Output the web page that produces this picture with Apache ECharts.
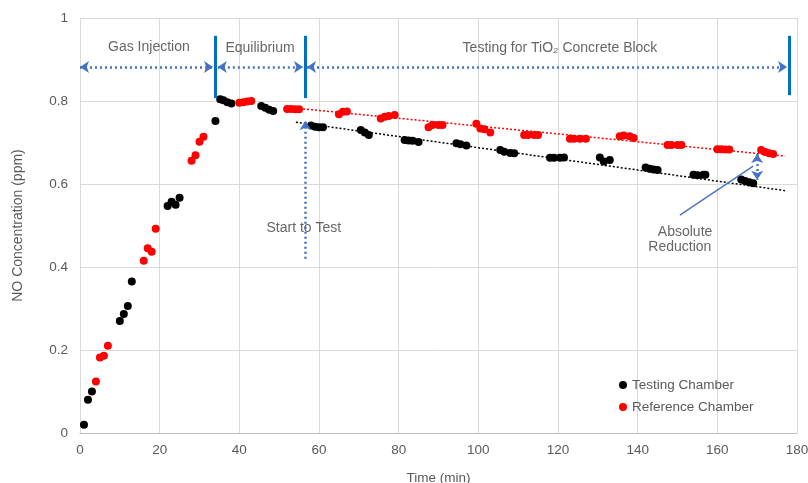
<!DOCTYPE html>
<html>
<head>
<meta charset="utf-8">
<script src="https://cdn.jsdelivr.net/npm/echarts@6/dist/echarts.min.js"></script>
<style>
html,body{margin:0;padding:0;background:#fff;}
#chart{width:808px;height:483px;}
</style>
</head>
<body>
<div id="chart"></div>
<script>
// time (min), NO (ppm)
var testingPts = [
  [1,0.02],[2,0.08],[3,0.1],[10,0.27],[11,0.287],[12,0.306],[13,0.365],
  [22,0.547],[23,0.557],[24,0.55],[25,0.567],[34,0.752],
  [35.2,0.804],[36,0.802],[37,0.797],[38,0.794],
  [45.5,0.788],[46.5,0.784],[47.5,0.779],[48.5,0.776],
  [58,0.741],[59,0.738],[60,0.737],[61,0.737],
  [70.5,0.73],[71.5,0.724],[72.5,0.718],
  [81.5,0.706],[82.5,0.705],[83.5,0.704],[85,0.701],
  [94.5,0.698],[95.5,0.696],[97,0.693],
  [105.5,0.682],[106.5,0.678],[108,0.675],[109,0.674],
  [118,0.663],[119,0.663],[120.5,0.663],[121.5,0.664],
  [130.5,0.664],[131.5,0.654],[133,0.658],
  [142,0.64],[143,0.637],[144,0.635],[145,0.634],
  [154,0.622],[155,0.621],[156.5,0.622],[157,0.622],
  [166,0.611],[167,0.607],[168,0.604],[169,0.602]
];
var referencePts = [
  [4,0.124],[5,0.182],[6,0.186],[7,0.21],[16,0.415],[17,0.445],[18,0.437],[19,0.492],
  [28,0.656],[29,0.669],[30,0.702],[31,0.714],
  [40,0.796],[41,0.797],[42,0.799],[43,0.8],
  [52,0.781],[53,0.781],[54,0.78],[55,0.78],
  [65,0.768],[66,0.774],[67,0.775],
  [75.5,0.758],[76.5,0.762],[77.5,0.764],[79,0.766],
  [87.5,0.737],[88.5,0.742],[90,0.742],[91,0.742],
  [99.5,0.745],[100.5,0.734],[101.5,0.732],[103,0.724],
  [111.5,0.718],[112.5,0.718],[114,0.718],[115,0.718],
  [123,0.709],[124,0.709],[125.5,0.709],[127,0.709],
  [135.5,0.715],[136.5,0.717],[138,0.715],[139,0.711],
  [147.5,0.694],[148.5,0.694],[150,0.694],[151,0.694],
  [160,0.684],[161,0.684],[162,0.683],[163,0.683],
  [171,0.682],[172,0.677],[173,0.674],[174,0.672]
];
var testingTrend = [[54.2,0.749],[177,0.584]];
var referenceTrend = [[56,0.781],[177,0.667]];

var phaseBounds = [34, 56.5, 178];
var spanY = 0.882;
var spans = [[0,33.4],[34.6,56],[57,177.5]];
var phaseLabels = [
  {name:'Gas Injection', value:[17.3,0.93]},
  {name:'Equilibrium', value:[45.2,0.928]},
  {name:'Testing for TiO₂ Concrete Block', value:[120.5,0.928]},
  {name:'Start to Test', value:[56.2,0.494]},
  {name:'Absolute', value:[151.9,0.484]},
  {name:'Reduction', value:[150.6,0.448]}
];

var txt = '#595959';
var blue = '#4472c4';
var fontFam = '"Liberation Sans", Arial, sans-serif';

var myChart = echarts.init(document.getElementById('chart'));

var option = {
  animation: false,
  textStyle: {fontFamily: fontFam},
  grid: {left: 80, right: 11, top: 18, bottom: 50, outerBoundsMode: 'none'},
  legend: {
    data: ['Testing Chamber', 'Reference Chamber'],
    orient: 'vertical',
    left: 614, top: 373,
    icon: 'circle',
    itemWidth: 8, itemHeight: 8, itemGap: 8,
    textStyle: {color: txt, fontSize: 13.5, fontFamily: fontFam}
  },
  xAxis: {
    type: 'value', min: 0, max: 180, interval: 20,
    name: 'Time (min)', nameLocation: 'middle', nameGap: 38,
    nameTextStyle: {color: txt, fontSize: 13.5},
    axisLine: {show: true, lineStyle: {color: '#bfbfbf'}},
    axisTick: {show: false},
    axisLabel: {color: txt, fontSize: 13.5, margin: 10},
    splitLine: {lineStyle: {color: '#d9d9d9'}}
  },
  yAxis: {
    type: 'value', min: 0, max: 1, interval: 0.2,
    name: 'NO Concentration (ppm)', nameLocation: 'middle', nameGap: 55,
    nameTextStyle: {color: txt, fontSize: 14},
    axisLine: {show: false},
    axisTick: {show: false},
    axisLabel: {color: txt, fontSize: 13.5, margin: 12},
    splitLine: {lineStyle: {color: '#d9d9d9'}}
  },
  series: [
    {
      name: 'Reference Chamber trend', type: 'line', data: referenceTrend,
      symbol: 'none', silent: true,
      lineStyle: {color: '#ff0000', width: 1.5, type: [2, 2]}
    },
    {
      name: 'Testing Chamber trend', type: 'line', data: testingTrend,
      symbol: 'none', silent: true,
      lineStyle: {color: '#000000', width: 1.5, type: [2, 2]}
    },
    {
      name: 'Testing Chamber', type: 'scatter', data: testingPts,
      symbolSize: 8, itemStyle: {color: '#000000', opacity: 1}
    },
    {
      name: 'Reference Chamber', type: 'scatter', data: referencePts,
      symbolSize: 8, itemStyle: {color: '#ff0000', opacity: 1}
    },
    {
      // solid phase boundaries
      name: 'bounds', type: 'line', data: [], silent: true,
      markLine: {
        silent: true, symbol: 'none', label: {show: false},
        lineStyle: {color: '#0070c0', width: 3, type: 'solid'},
        data: [
          [{coord: [phaseBounds[0], 0.957]}, {coord: [phaseBounds[0], 0.807]}],
          [{coord: [phaseBounds[1], 0.957]}, {coord: [phaseBounds[1], 0.807]}],
          [{coord: [phaseBounds[2], 0.957]}, {coord: [phaseBounds[2], 0.814]}]
        ]
      }
    },
    {
      // dotted double arrows
      name: 'spans', type: 'line', data: [], silent: true,
      markLine: {
        silent: true, symbol: ['arrow', 'arrow'], symbolSize: [9, 9],
        label: {show: false},
        lineStyle: {color: blue, width: 2.5, type: [2, 3]},
        data: spans.map(function (s) {
          return [{coord: [s[0], spanY]}, {coord: [s[1], spanY]}];
        }).concat([
          [{coord: [170, 0.672]}, {coord: [170, 0.61]}]
        ])
      }
    },
    {
      // start to test arrow and pointer line
      name: 'pointers', type: 'line', data: [], silent: true,
      markLine: {
        silent: true, symbol: ['none', 'arrow'], symbolSize: [9, 9],
        label: {show: false},
        data: [
          [{coord: [56.6, 0.42], lineStyle: {color: blue, width: 2.5, type: [2, 3]}},
           {coord: [56.6, 0.752]}],
          [{coord: [150.6, 0.525], symbol: 'none', lineStyle: {color: blue, width: 1.3, type: 'solid'}},
           {coord: [169, 0.643], symbol: 'none'}]
        ]
      }
    },
    {
      name: 'labels', type: 'scatter', data: phaseLabels, silent: true,
      symbolSize: 0,
      label: {
        show: true, position: 'inside', formatter: '{b}',
        color: '#404040', fontSize: 14, fontFamily: fontFam
      }
    }
  ]
};

myChart.setOption(option);
</script>
</body>
</html>
